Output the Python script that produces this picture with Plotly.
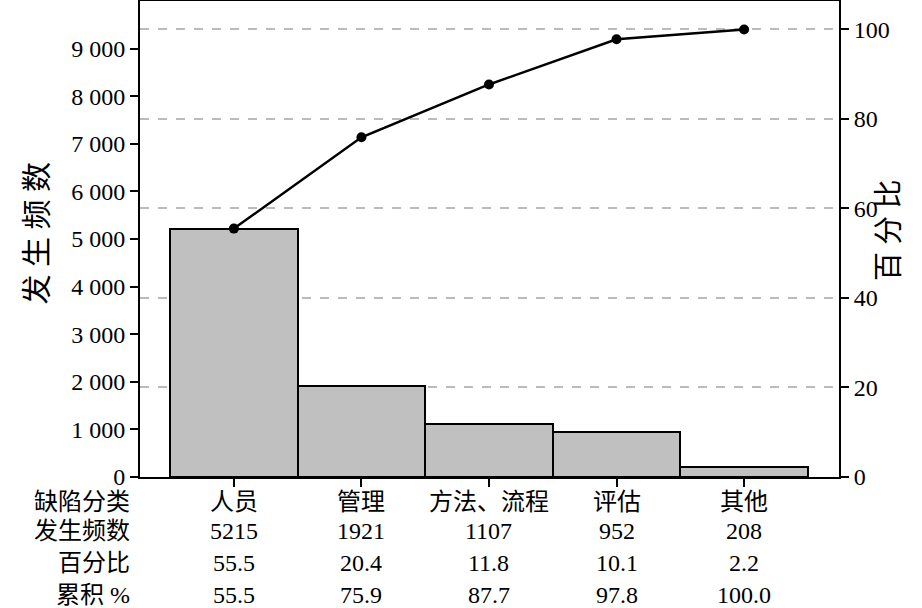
import plotly.graph_objects as go

categories = ["人员", "管理", "方法、流程", "评估", "其他"]
counts = [5215, 1921, 1107, 952, 208]
percent = [55.5, 20.4, 11.8, 10.1, 2.2]
cumulative = [55.5, 75.9, 87.7, 97.8, 100.0]
left_ticks = [0, 1000, 2000, 3000, 4000, 5000, 6000, 7000, 8000, 9000]
left_ticktext = ["0", "1 000", "2 000", "3 000", "4 000", "5 000", "6 000", "7 000", "8 000", "9 000"]
right_ticks = [0, 20, 40, 60, 80, 100]
row_labels = ["缺陷分类", "发生频数", "百分比", "累积 %"]

FONT = "Liberation Serif, Noto Sans CJK SC, serif"
total = sum(counts)
ymax = 10000
xpos = list(range(len(categories)))

# figure size and margins in pixels
W, H, L, R, T, B = 922, 608, 140, 83, 1, 131
pw, ph = W - L - R, H - T - B

fig = go.Figure()
fig.add_trace(go.Bar(
    x=xpos, y=counts, width=1,
    marker=dict(color="#c0c0c0", line=dict(color="black", width=2)),
    yaxis="y",
))
fig.add_trace(go.Scatter(
    x=xpos, y=cumulative, mode="lines+markers",
    line=dict(color="black", width=2.5),
    marker=dict(color="black", size=10),
    yaxis="y2",
))

# table under the chart
rows = [categories,
        [str(v) for v in counts],
        ["%.1f" % v for v in percent],
        ["%.1f" % v for v in cumulative]]
row_px = [502, 531, 563, 595]
for r, (label, vals) in enumerate(zip(row_labels, rows)):
    ry = (H - B - row_px[r]) / ph
    fig.add_annotation(x=0, xref="paper", y=ry, yref="paper",
                       text=label, showarrow=False, xanchor="right",
                       xshift=-9, yanchor="middle", borderpad=0,
                       font=dict(family=FONT, size=24, color="black"))
    for i, v in enumerate(vals):
        fig.add_annotation(x=xpos[i], xref="x", y=ry, yref="paper",
                           text=v, showarrow=False, xanchor="center",
                           yanchor="middle", borderpad=0,
                           font=dict(family=FONT, size=24, color="black"))

# axis titles
fig.add_annotation(x=(17 - L) / pw, xref="paper", y=(H - B - 233) / ph, yref="paper",
                   text="发 生 频 数", showarrow=False, textangle=-90,
                   font=dict(family=FONT, size=30, color="black"))
fig.add_annotation(x=(907 - L) / pw, xref="paper", y=(H - B - 230) / ph, yref="paper",
                   text="百 分 比", showarrow=False, textangle=-90,
                   font=dict(family=FONT, size=29, color="black"))

fig.update_layout(
    width=W, height=H,
    margin=dict(l=L, r=R, t=T, b=B, autoexpand=False),
    plot_bgcolor="white", paper_bgcolor="white",
    showlegend=False,
    bargap=0,
    font=dict(family=FONT, size=24, color="black"),
    xaxis=dict(range=[-0.736, 4.744], tickvals=xpos, ticktext=[""] * len(xpos),
               ticks="outside", ticklen=8, tickwidth=2, tickcolor="black",
               showline=True, linecolor="black", linewidth=2, mirror=True,
               showgrid=False, zeroline=False),
    yaxis=dict(range=[0, ymax], tickvals=left_ticks, ticktext=left_ticktext,
               ticks="outside", ticklen=8, tickwidth=2, tickcolor="black",
               showline=True, linecolor="black", linewidth=2,
               showgrid=False, zeroline=False),
    yaxis2=dict(range=[0, ymax / total * 100], tickvals=right_ticks,
                overlaying="y", side="right",
                ticks="outside", ticklen=8, tickwidth=2, tickcolor="black",
                showline=True, linecolor="black", linewidth=2,
                showgrid=True, gridcolor="#bbbbbb", gridwidth=1.5, griddash="dash",
                zeroline=False),
)

fig.write_html("out.html", config={"displayModeBar": False},
               post_script="document.body.style.margin='0px';")
